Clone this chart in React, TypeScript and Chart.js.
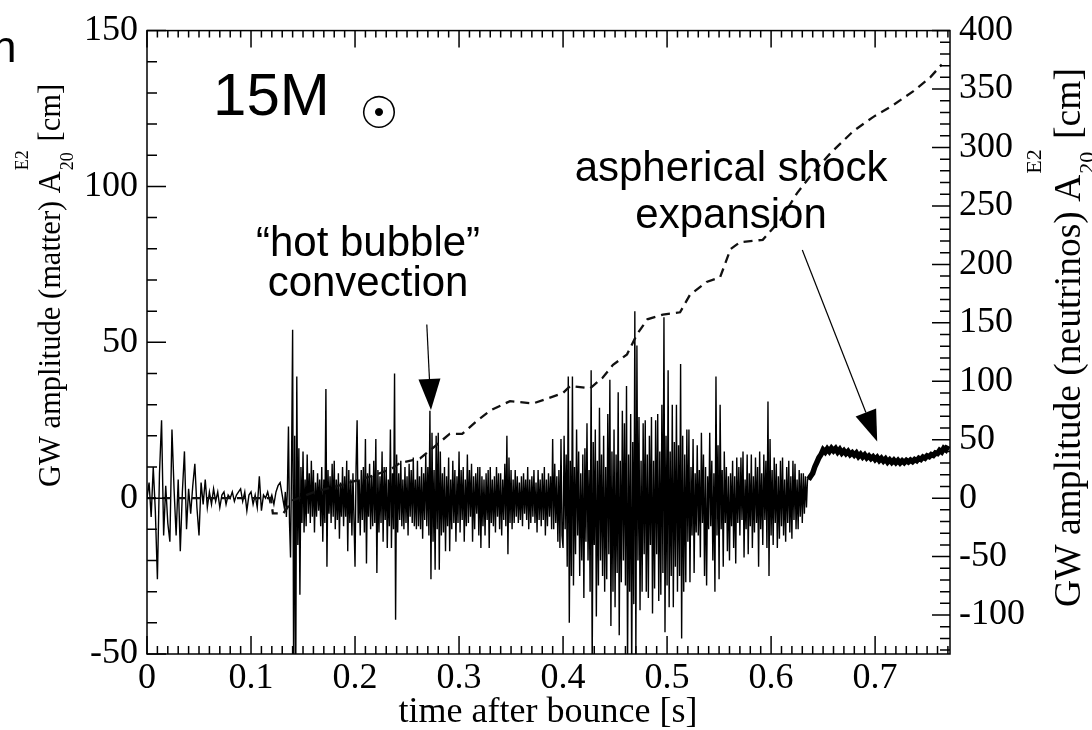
import React, { useEffect, useRef } from "react";
import { Chart, registerables } from "chart.js";

Chart.register(...registerables);

// ---- data -------------------------------------------------------------
// matter signal (left axis, cm), quiet start sampled every 2 ms from t = 0
const EARLY_STEP = 0.002;
const matterEarly = [
  0, 5, -6, 10, -4, -26, 8, 25, -12, 4,
  -8, -14, 22, 3, -12, 6, -17, 2, 15, -10,
  3, -5, 4, 11, -3, -12, 5, -2, 6, -3,
  2, -2, 3, -1, 2, -3, 1, 2, -2, 1,
  0, 2, -1, 1, 2, 3, -1, 2, -4, 1,
  2, -2, 1, -3, 7, -4, 1, 0, 2, -1,
  1, -2, 2, 4, 5,
];

// matter signal, convective part sampled every 1 ms from t = 0.130
const DENSE_START = 0.13;
const DENSE_STEP = 0.001;
const matterConvection = [
  1, -1, -3, 2, -6, 3, 23, -8, -19, 12,
  54, -60, 20, -60, 39, -15, 16, -31, 10, -8,
  15, -11, 6, -9, 14, -5, 8, -8, 12, -6,
  9, -11, 5, -6, 8, -4, 6, -9, 10, -14,
  6, -8, 35, -22, 9, -5, 7, -8, 11, -6,
  12, -10, 6, -7, 8, -13, 5, -6, 10, -9,
  7, -6, 12, -17, 9, -8, 6, -12, 8, -7,
  -22, 10, 25, -8, 6, -12, 9, -7, 10, -11,
  19, -21, 8, -6, 11, -10, 7, -9, 12, -8,
  19, -24, 9, -11, 7, -8, 15, -14, 10, -7,
  10, -16, 6, -9, 22, -16, 8, -10, 40, -39,
  14, -11, 8, -7, 12, -9, 6, -10, 10, -8,
  7, -12, 11, -6, 9, -8, 13, -9, 6, -10,
  12, -9, 7, -10, 10, -13, 8, -7, 14, -9,
  10, -12, 28, -26, 21, -14, 9, -23, 20, -10,
  21, -23, 15, -12, 8, -11, 10, -17, 7, -9,
  13, -17, 6, -10, 12, -8, 9, -14, 7, -8,
  15, -11, 9, -7, 10, -14, 6, -9, 14, -8,
  9, -6, 11, -14, 7, -10, 8, -5, 10, -12,
  10, -16, 7, -9, 6, -12, 8, -7, 9, -16,
  10, -8, 6, -9, 7, -11, 10, -6, 8, -10,
  8, -12, 6, -7, 11, -9, 20, -18, 13, -8,
  9, -10, 6, -8, 9, -6, 7, -8, 5, -7,
  7, -9, 8, -5, 6, -7, 10, -10, 6, -8,
  7, -6, 9, -8, 5, -11, 9, -7, 6, -9,
  8, -7, 10, -12, 6, -9, 8, -6, 7, -10,
  19, -10, 11, -8, 7, -14, 9, -16, 19, -12,
];
// continues every 1 ms from t = 0.400
const matterStrong = [
  -16, 20, -10, 14, -22, 39, -40, 12, -25, 39,
  -28, 10, -18, 22, -12, 15, -25, 8, -20, 14,
  -32, 16, -14, 24, -20, 9, -30, 41, -55, 18,
  -15, 22, -38, 12, -28, 29, -20, 14, -25, 20,
  -30, 10, -26, 27, -18, 38, -41, 15, -30, 22,
  -35, 14, -24, 34, -44, 12, -27, 28, -20, 24,
  -28, 36, -55, 14, -30, 27, -58, 18, -34, 60,
  -52, 49, -20, 26, -36, 12, -30, 24, -18, 25,
  -30, 14, -32, 20, -15, 26, -37, 12, -29, 25,
  -18, 27, -33, 15, -31, 30, -24, 58, -43, 20,
  -28, 41, -35, 15, -25, 30, -35, 18, -22, 30,
  -30, 17, -25, 43, -45, 20, -30, 14, -27, 22,
  -14, 22, -27, 10, -12, 19, -24, 8, -11, 17,
  -12, 9, -19, 21, -8, 14, -25, 10, -28, 7,
  -10, 21, -9, 12, -20, 8, -30, 39, -12, 17,
  -26, 30, -10, 9, -22, 15, -8, 10, -17, 7,
  -20, 8, -9, 12, -16, 7, -21, 13, -8, 10,
  -12, 13, -7, 15, -19, 6, -10, 14, -18, 8,
  -9, 14, -16, 7, -11, 13, -8, 10, -22, 15,
  -10, 8, -15, 14, -7, 12, -16, 31, -25, 19,
  -12, 9, -15, 13, -8, 11, -16, 7, -13, 12,
  -9, 13, -12, 6, -14, 10, -8, 12, -11, 7,
  -13, 12, -7, 11, -10, 6, -10, 9, -6, 8,
  -8, 8, -5, 7, -3, 6, 6,
];

// matter signal, smooth late band, sampled every 2 ms from t = 0.636
const BAND_START = 0.636;
const BAND_STEP = 0.002;
const matterBand = [
  6, 7,
  8, 10, 11.5, 13, 14, 15.5, 14.8, 15.8, 15, 16,
  15.2, 15.9, 14.8, 15.6, 14.5, 15.2, 14.3, 15, 14, 14.6,
  13.8, 14.5, 13.4, 14.1, 13.2, 13.9, 12.9, 13.5, 12.7, 13.3,
  12.4, 13.1, 12.1, 12.8, 11.9, 12.6, 11.6, 12.3, 11.5, 12.2,
  11.4, 12.1, 11.3, 12, 11.4, 12.1, 11.6, 12.2, 11.7, 12.4,
  12, 12.8, 12.4, 13.2, 12.8, 13.6, 13.3, 14, 13.7, 14.5,
  14.3, 15.3, 14.8, 16, 15.5, 16.8,
];

// neutrino signal (right axis, cm)
const neutrinoTime = [
  0, 0.05, 0.1, 0.119, 0.121, 0.131, 0.14, 0.16, 0.19, 0.22,
  0.235, 0.243, 0.2625, 0.275, 0.291, 0.303, 0.317, 0.33, 0.349, 0.371,
  0.3875, 0.4, 0.407, 0.426, 0.438, 0.448, 0.4615, 0.471, 0.481, 0.496,
  0.5125, 0.522, 0.538, 0.551, 0.561, 0.57, 0.592, 0.609, 0.625, 0.64,
  0.657, 0.679, 0.698, 0.717, 0.7365, 0.753, 0.764,
];
const neutrinoValue = [
  0, 0, 0, 0, -13, -13, -2, 5, 12, 20,
  25, 30, 34, 43, 55, 55, 66, 75, 83, 81,
  86, 90, 96, 94, 103, 114, 123, 140, 153, 157,
  159, 174, 185, 189, 213, 219, 221, 238, 261, 278,
  295, 314, 326, 336, 348, 360, 371,
];

const X_MIN = 0;
const X_MAX = 0.772;
const Y_MIN = -50;
const Y_MAX = 150;
const Y2_MIN = -400 / 3;
const Y2_MAX = 400;

const xTitle = "time after bounce [s]";
const yTitleMain = "GW amplitude (matter) A";
const y2TitleMain = "GW amplitude (neutrinos) A";
const titleSup = "E2";
const titleSub = "20";
const titleUnit = " [cm]";

const SERIF = '"Liberation Serif", "Times New Roman", serif';
const SANS = '"Liberation Sans", Arial, sans-serif';

// ---- drawing helpers -------------------------------------------------
function drawRotatedTitle(
  ctx: CanvasRenderingContext2D,
  bx: number,
  cy: number,
  size: number,
  main: string,
  smallSize: number,
  supShift: number,
  subShift: number
) {
  ctx.save();
  ctx.translate(bx, cy);
  ctx.rotate(-Math.PI / 2);
  ctx.fillStyle = "#000";
  ctx.textBaseline = "alphabetic";
  ctx.textAlign = "left";
  ctx.font = `${size}px ${SERIF}`;
  const w1 = ctx.measureText(main).width;
  const w3 = ctx.measureText(titleUnit).width;
  ctx.font = `${smallSize}px ${SERIF}`;
  const wSup = ctx.measureText(titleSup).width;
  const wSub = ctx.measureText(titleSub).width;
  const wMid = Math.max(wSup, wSub) + 1;
  const total = w1 + wMid + w3;
  let x0 = -total / 2;
  ctx.font = `${size}px ${SERIF}`;
  ctx.fillText(main, x0, 0);
  x0 += w1 + 1;
  ctx.font = `${smallSize}px ${SERIF}`;
  ctx.fillText(titleSup, x0, supShift);
  ctx.fillText(titleSub, x0, subShift);
  x0 += wMid;
  ctx.font = `${size}px ${SERIF}`;
  ctx.fillText(titleUnit, x0, 0);
  ctx.restore();
}

function drawArrow(
  ctx: CanvasRenderingContext2D,
  x1: number,
  y1: number,
  x2: number,
  y2: number,
  headLen: number,
  headHalf: number
) {
  const dx = x2 - x1;
  const dy = y2 - y1;
  const L = Math.hypot(dx, dy);
  const ux = dx / L;
  const uy = dy / L;
  const bx = x2 - ux * headLen;
  const by = y2 - uy * headLen;
  ctx.beginPath();
  ctx.lineWidth = 1.2;
  ctx.moveTo(x1, y1);
  ctx.lineTo(bx, by);
  ctx.stroke();
  ctx.beginPath();
  ctx.moveTo(x2, y2);
  ctx.lineTo(bx - uy * headHalf, by + ux * headHalf);
  ctx.lineTo(bx + uy * headHalf, by - ux * headHalf);
  ctx.closePath();
  ctx.fill();
}

const decorPlugin = {
  id: "decor",
  afterDraw(chart: any) {
    const { ctx, chartArea: a, scales } = chart;
    const sx = scales.x;
    const sy = scales.y;
    const sy2 = scales.y2;
    ctx.save();
    ctx.strokeStyle = "#000";
    ctx.fillStyle = "#000";
    ctx.lineWidth = 1.5;

    // inward ticks
    ctx.beginPath();
    for (let i = 0; i <= 77; i++) {
      const px = sx.getPixelForValue(i / 100);
      const major = i % 10 === 0;
      const lb = major ? 18 : 8;
      const lt = major ? 17 : 7;
      ctx.moveTo(px, a.bottom);
      ctx.lineTo(px, a.bottom - lb);
      ctx.moveTo(px, a.top);
      ctx.lineTo(px, a.top + lt);
    }
    for (let v = -50; v <= 150; v += 10) {
      const py = sy.getPixelForValue(v);
      const len = v % 50 === 0 ? 19 : 10;
      ctx.moveTo(a.left, py);
      ctx.lineTo(a.left + len, py);
    }
    for (let v = -130; v <= 400; v += 10) {
      const py = sy2.getPixelForValue(v);
      const len = v % 50 === 0 ? 18 : 10;
      ctx.moveTo(a.right, py);
      ctx.lineTo(a.right - len, py);
    }
    ctx.stroke();
    ctx.strokeRect(a.left, a.top, a.right - a.left, a.bottom - a.top);

    // axis titles
    ctx.font = `36px ${SERIF}`;
    ctx.textAlign = "center";
    ctx.textBaseline = "alphabetic";
    ctx.fillText(xTitle, (a.left + a.right) / 2 - 0.5, 722);
    drawRotatedTitle(ctx, 60, 286, 30.5, yTitleMain, 18, -32, 13);
    drawRotatedTitle(ctx, 1080, 338, 37.5, y2TitleMain, 22, -39, 14);

    // annotations (anchored in data coordinates)
    const X = (t: number) => sx.getPixelForValue(t);
    const Y = (v: number) => sy.getPixelForValue(v);
    ctx.textAlign = "left";
    ctx.font = `60px ${SANS}`;
    ctx.fillText("15M", X(0.0635), Y(122.9));
    ctx.font = `44px "DejaVu Sans", sans-serif`;
    ctx.textAlign = "center";
    ctx.textBaseline = "middle";
    ctx.fillText("\u2609", X(0.223), Y(122.5));
    ctx.textBaseline = "alphabetic";
    ctx.font = `42px ${SANS}`;
    ctx.fillText("\u201Chot bubble\u201D", X(0.2125), Y(77.7));
    ctx.fillText("convection", X(0.2125), Y(65));
    ctx.fillText("aspherical shock", X(0.5615), Y(101.6));
    ctx.fillText("expansion", X(0.5615), Y(86.6));

    // stray cropped text at the top-left edge
    ctx.textAlign = "left";
    ctx.font = `44px ${SANS}`;
    ctx.fillText("n", -8, 62);

    // arrows
    drawArrow(ctx, X(0.269), Y(55.7), X(0.273), Y(28.3), 31, 11);
    drawArrow(ctx, X(0.630), Y(79.6), X(0.702), Y(18.2), 31, 11);
    ctx.restore();
  },
};

export default function App() {
  const ref = useRef<HTMLCanvasElement>(null);
  useEffect(() => {
    document.body.style.margin = "0";
    document.body.style.overflow = "hidden";
    const canvas = ref.current;
    if (!canvas) return;
    const r3 = (v: number) => Math.round(v * 10000) / 10000;
    const denseValues = [...matterConvection, ...matterStrong];
    const noisyPoints = [
      ...matterEarly.map((v, i) => ({ x: r3(i * EARLY_STEP), y: v })),
      ...denseValues.map((v, i) => ({ x: r3(DENSE_START + i * DENSE_STEP), y: v })),
    ];
    const bandPoints = matterBand.map((v, i) => ({
      x: r3(BAND_START + i * BAND_STEP),
      y: v,
    }));
    const neutrinoPoints = neutrinoTime.map((t, i) => ({ x: t, y: neutrinoValue[i] }));
    const tickFont = { family: SERIF, size: 36 };

    const chart = new Chart(canvas, {
      type: "line",
      data: {
        datasets: [
          {
            label: "neutrinos",
            data: neutrinoPoints,
            yAxisID: "y2",
            borderColor: "#111",
            borderWidth: 2.3,
            borderDash: [9, 6],
            pointRadius: 0,
            tension: 0,
            fill: false,
          },
          {
            label: "matter band",
            data: bandPoints,
            yAxisID: "y",
            borderColor: "#000",
            borderWidth: 5.5,
            pointRadius: 0,
            tension: 0,
            fill: false,
          },
          {
            label: "matter",
            data: noisyPoints,
            yAxisID: "y",
            borderColor: "#000",
            borderWidth: 1.4,
            pointRadius: 0,
            tension: 0,
            fill: false,
          },
        ],
      },
      options: {
        responsive: false,
        animation: false,
        events: [],
        layout: { padding: { top: 26, left: 0, right: 0, bottom: 0 } },
        plugins: { legend: { display: false }, tooltip: { enabled: false } },
        scales: {
          x: {
            type: "linear",
            position: "bottom",
            min: X_MIN,
            max: X_MAX,
            grid: { display: false, drawTicks: false },
            border: { display: false },
            ticks: {
              stepSize: 0.1,
              includeBounds: false,
              autoSkip: false,
              maxRotation: 0,
              padding: 3,
              color: "#000",
              font: tickFont,
              callback: (v: any) => String(Math.round(Number(v) * 10) / 10),
            },
            afterFit: (s: any) => {
              s.height = 76;
            },
          },
          y: {
            type: "linear",
            position: "left",
            min: Y_MIN,
            max: Y_MAX,
            grid: { display: false, drawTicks: false },
            border: { display: false },
            ticks: {
              stepSize: 50,
              padding: 9,
              color: "#000",
              font: tickFont,
              callback: (v: any) => String(v),
            },
            afterFit: (s: any) => {
              s.width = 147;
            },
          },
          y2: {
            type: "linear",
            position: "right",
            min: Y2_MIN,
            max: Y2_MAX,
            grid: { display: false, drawTicks: false },
            border: { display: false },
            ticks: {
              stepSize: 50,
              includeBounds: false,
              padding: 9,
              color: "#000",
              font: tickFont,
              callback: (v: any) => String(v),
            },
            afterFit: (s: any) => {
              s.width = 142;
            },
          },
        },
      },
      plugins: [decorPlugin],
    } as any);
    return () => chart.destroy();
  }, []);
  return (
    <div style={{ width: 1092, height: 730 }}>
      <canvas ref={ref} width={1092} height={730} style={{ display: "block" }} />
    </div>
  );
}
